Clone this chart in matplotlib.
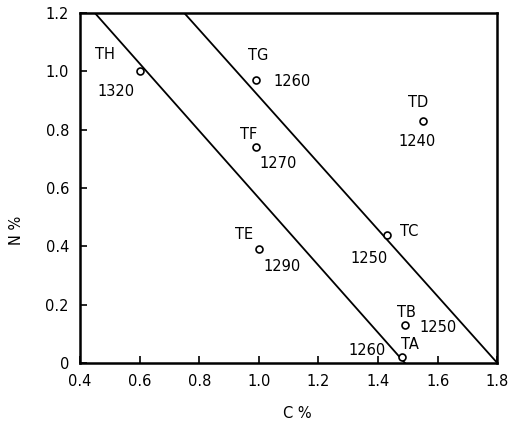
import matplotlib.pyplot as plt

# sample points: C %, N %, label, temperature
names = ["TH", "TG", "TF", "TE", "TD", "TC", "TB", "TA"]
c_pct = [0.60, 0.99, 0.99, 1.00, 1.55, 1.43, 1.49, 1.48]
n_pct = [1.00, 0.97, 0.74, 0.39, 0.83, 0.44, 0.13, 0.02]
temps = ["1320", "1260", "1270", "1290", "1240", "1250", "1250", "1260"]

# two boundary lines (C %, N %)
line1_c = [0.45, 1.49]
line1_n = [1.20, 0.00]
line2_c = [0.75, 1.80]
line2_n = [1.20, 0.00]

xticks = [0.4, 0.6, 0.8, 1.0, 1.2, 1.4, 1.6, 1.8]
yticks = [0, 0.2, 0.4, 0.6, 0.8, 1.0, 1.2]
ytick_labels = ["0", "0.2", "0.4", "0.6", "0.8", "1.0", "1.2"]

# label offsets in pixels (name, temperature), y up
name_off = [(-35, 17), (2, 25), (-7, 13), (-15, 15), (-5, 18), (22, 3), (2, 13), (8, 13)]
temp_off = [(-24, -20), (36, -1), (22, -16), (23, -17), (-6, -21), (-18, -24), (33, -2), (-35, 7)]

plt.rcParams["font.family"] = "DejaVu Sans"
fig = plt.figure(figsize=(5.10, 4.23), dpi=100)
ax = fig.add_axes([0.157, 0.142, 0.818, 0.827])

ax.plot(line1_c, line1_n, color="black", lw=1.3)
ax.plot(line2_c, line2_n, color="black", lw=1.3)
ax.plot(c_pct, n_pct, "o", ms=5, mfc="white", mec="black", mew=1.2, zorder=3)

for i in range(len(names)):
    ax.annotate(names[i], (c_pct[i], n_pct[i]), xytext=name_off[i],
                textcoords="offset pixels", ha="center", va="center", fontsize=10.5)
    ax.annotate(temps[i], (c_pct[i], n_pct[i]), xytext=temp_off[i],
                textcoords="offset pixels", ha="center", va="center", fontsize=10.5)

ax.set_xlim(0.4, 1.8)
ax.set_ylim(0, 1.2)
ax.set_xticks(xticks)
ax.set_xticklabels([f"{v:.1f}" for v in xticks])
ax.set_yticks(yticks)
ax.set_yticklabels(ytick_labels)
ax.tick_params(direction="in", length=5, width=1.2, pad=8, labelsize=10.5)
for s in ax.spines.values():
    s.set_linewidth(1.8)

ax.set_xlabel("C %", fontsize=10.5)
ax.xaxis.set_label_coords(0.52, -0.122)
ax.set_ylabel("N %", fontsize=10.5)
ax.yaxis.set_label_coords(-0.135, 0.38)

fig.savefig("out.png", dpi=100)
